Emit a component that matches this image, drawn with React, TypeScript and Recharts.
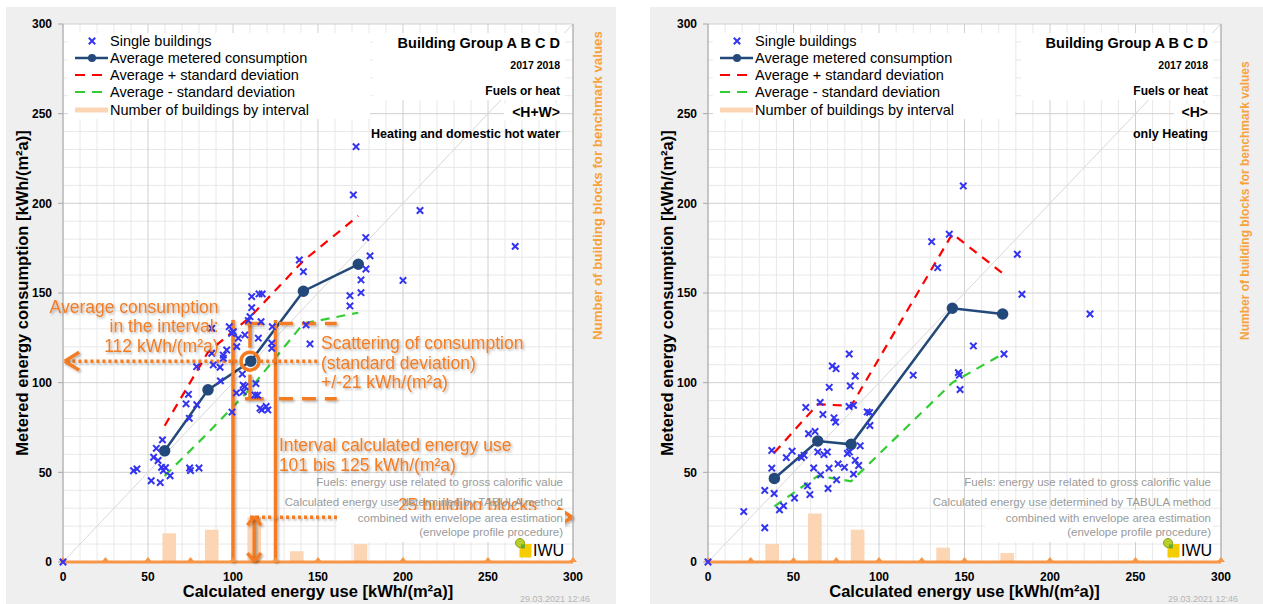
import React from 'react'
import {
  ComposedChart, XAxis, YAxis, CartesianGrid, Scatter, Line,
  ReferenceLine, ReferenceDot, ReferenceArea,
} from 'recharts'

// axes
const ticks = [0, 50, 100, 150, 200, 250, 300]
const minorTicks = [10, 20, 30, 40, 60, 70, 80, 90, 110, 120, 130, 140, 160, 170, 180, 190, 210, 220, 230, 240, 260, 270, 280, 290]
const countTicks = [0, 50, 100]
const intervalBounds = [0, 25, 50, 75, 100, 125, 150, 200, 250, 300]

// heating + domestic hot water <H+W>
const hwSingle: [number, number][] = [
  [0, 0], [41.5, 50.9], [43.5, 51.9], [51.9, 45.3], [57.2, 44.3], [53.3, 58.4], [54.9, 63.4], [58.5, 68.1],
  [55.9, 56.6], [58, 52.8], [59, 51], [60.3, 52.6], [63, 48.1], [74.5, 52.4], [75, 51], [80, 52.4],
  [72.4, 88.2], [73.8, 93.5], [78.7, 87.7], [74.3, 80.1], [92.6, 101], [99.4, 83.6], [102, 94.3],
  [106, 98.6], [106, 94.9], [113.5, 99.5], [114.5, 93], [116.9, 84.8], [120.5, 84.8], [119.5, 86.7],
  [105.5, 104.8], [78.6, 108.9], [87.5, 116.4], [94.3, 115.4], [96.3, 118.2], [88.4, 109.9], [92.4, 108.6],
  [94.3, 113.6], [87.5, 130.3], [99.2, 127.5], [97.8, 131.2], [100.2, 128.4], [102.2, 120.1], [103.1, 124.8],
  [107, 126.6], [114.9, 124.8], [116.5, 134], [123.1, 131.2], [122.8, 122], [122.8, 119.2], [109, 134.6],
  [110, 136.8], [111, 141.8], [111, 148], [115.3, 149.5], [117.2, 149.5], [107.1, 97.8], [112.9, 93.1],
  [115.9, 85.7], [139, 168.4], [141.4, 161.9], [143, 132.2], [145.3, 121.6], [168.8, 142.8], [168.8, 148.5],
  [175.3, 150.2], [175.3, 157.3], [178.2, 163.4], [180.6, 170.7], [178.1, 180.9], [170.8, 204.7],
  [172.4, 231.6], [200, 157], [210, 196], [266, 176],
]
const hwAvgX = [59.8, 85.3, 110.5, 141.4, 173.7]
const hwAvg = [62, 96, 112, 151, 166]
const hwPlus = [76, 117, 137, 168, 193]
const hwMinus = [48, 72, 97, 133, 139]
const hwBinX = [62.5, 87.5, 112.5, 137.5, 175]
const hwCount = [16, 18, 25, 6, 10]

// only heating <H>
const hSingle: [number, number][] = [
  [0, 0], [20.9, 28.1], [33.2, 19.1], [33.2, 39.9], [38.7, 38.2], [41.8, 29.1], [44.2, 31.3], [50.6, 35.7],
  [37.3, 62.2], [37.3, 52.3], [45.8, 58.2], [49.2, 61.8], [54.6, 58.2], [56.2, 59.5], [57.2, 86.2],
  [58.8, 71.5], [62.6, 72.8], [61.8, 52.4], [58.2, 42.4], [59.6, 37.6], [65.6, 89], [65.8, 48.6],
  [67.2, 82.3], [64.2, 61.4], [67.8, 59.9], [69.8, 61.4], [70.9, 97.4], [70.8, 52.3], [70.2, 41],
  [73.7, 80.4], [74.6, 78], [76.1, 54.7], [75.2, 45.8], [79.8, 52.8], [83.2, 98.2], [86.1, 103.7],
  [82.5, 86.7], [85.1, 87.4], [81.5, 60.5], [82.7, 61.4], [86.1, 56.7], [88.1, 53.8], [85.1, 49],
  [89, 64.8], [93.1, 83.7], [94.5, 83.3], [94.7, 76.1], [120, 104.2], [146.4, 105.6], [147, 104.2],
  [147.4, 96.2], [149.3, 209.7], [130.8, 178.6], [141.1, 182.8], [134.3, 164.1], [180.9, 171.6],
  [183.6, 149.3], [155.2, 120.5], [173.1, 116], [82.6, 116], [72.7, 109.3], [74.9, 107.8], [223.4, 138.3],
]
const hAvgX = [38.8, 64.2, 83.7, 142.9, 172.3]
const hAvg = [46.6, 67.5, 65.6, 141.5, 138.3]
const hPlus = [61, 88, 87, 183, 161]
const hMinus = [31, 48, 45, 100, 116]
const hBinX = [37.5, 62.5, 87.5, 137.5, 175]
const hCount = [10, 27, 18, 8, 5]

const FONT = '"Liberation Sans", Arial, Helvetica, sans-serif'
const NAVY = '#23497a'
const BLUE = '#3333f0'
const NOTE = '#f47b20'
const BASE = '#f79646'
const COUNT = '#f8a23c'
const BAR = '#fcd5b4'
const BAR_HALF = 4 // half bar width in axis units

function Cross(props: any) {
  const { cx, cy } = props
  if (cx == null || cy == null) return <g />
  const s = 3.2
  return (
    <path d={`M${cx - s},${cy - s}L${cx + s},${cy + s}M${cx - s},${cy + s}L${cx + s},${cy - s}`}
      stroke={BLUE} strokeWidth={2} fill="none" />
  )
}

function Tri(props: any) {
  const { cx, cy, index } = props
  return <path key={index} d={`M${cx - 4},${cy}L${cx},${cy - 5}L${cx + 4},${cy}Z`} fill={BASE} />
}

function CountTick(props: any) {
  const { x, y, payload } = props
  if (!countTicks.includes(payload.value)) return <g />
  return (
    <text x={x} y={y} dy={4} textAnchor="start" fill={COUNT} fontSize={12} fontWeight="bold">{payload.value}</text>
  )
}

const minorGen = (axisKey: 'x' | 'y') => (props: any) => {
  const axis = axisKey === 'x' ? props.xAxis : props.yAxis
  const off = props.offset
  if (axis && typeof axis.scale === 'function') return minorTicks.map(v => axis.scale(v))
  if (axisKey === 'x') return minorTicks.map(v => off.left + (off.width * v) / 300)
  return minorTicks.map(v => off.top + off.height * (1 - v / 300))
}

const noteText = (lines: string[], anchor: 'start' | 'end', gap: number) => (props: any) => {
  const vb = props.viewBox || {}
  const x = vb.x ?? 0
  const y = vb.y ?? 0
  return (
    <text x={x} y={y} textAnchor={anchor} fill={NOTE} fontSize={17.5} dominantBaseline="central" filter="url(#noteShadow)">
      {lines.map((l, i) => <tspan key={i} x={x} dy={i === 0 ? 0 : gap}>{l}</tspan>)}
    </text>
  )
}

function seg(key: string, x1: number, y1: number, x2: number, y2: number, dash?: string, w = 3.5) {
  return (
    <ReferenceLine key={key} segment={[{ x: x1, y: y1 }, { x: x2, y: y2 }]} stroke={NOTE} strokeWidth={w}
      strokeDasharray={dash} ifOverflow="visible" filter="url(#noteShadow)" />
  )
}

function note(key: string, x: number, y: number, lines: string[], anchor: 'start' | 'end', gap = 19.5) {
  return <ReferenceDot key={key} x={x} y={y} r={0} fill="none" stroke="none" ifOverflow="visible" label={noteText(lines, anchor, gap)} />
}

function annotations() {
  const dots = '3 3'
  return [
    seg('v1', 100, 0, 100, 135),
    seg('v2', 125, 0, 125, 135),
    seg('hl', 2, 112, 104.5, 112, dots),
    seg('al1', 9.5, 117, 1, 112),
    seg('al2', 1, 112, 9.5, 107),
    seg('hr', 116, 112, 150, 112, dots),
    seg('eb1', 110, 133, 110, 119.5),
    seg('eb2', 110, 104.5, 110, 91),
    seg('cap1', 107, 133, 118, 133),
    seg('cap2', 107, 91, 118, 91),
    seg('d1', 127, 133, 161, 133, '14 9'),
    seg('d2', 127, 91, 161, 91, '14 9'),
    seg('h25', 110, 25, 298, 25, dots),
    seg('ar1', 291, 30, 299.5, 25),
    seg('ar2', 299.5, 25, 291, 20),
    seg('va', 112.5, 1, 112.5, 25),
    seg('vt1', 108.5, 20.5, 112.5, 25.5),
    seg('vt2', 112.5, 25.5, 116.5, 20.5),
    seg('vb1', 108.5, 5, 112.5, 0.5),
    seg('vb2', 112.5, 0.5, 116.5, 5),
    <ReferenceDot key="circ" x={110} y={112} r={9} fill="none" stroke={NOTE} strokeWidth={3.5} ifOverflow="visible" />,
    note('n1', 91.5, 142.2, ['Average consumption', 'in the interval:', '112 kWh/(m²a)'], 'end'),
    note('n2', 151.8, 122, ['Scattering of consumption', '(standard deviation)', '+/-21 kWh/(m²a)'], 'start'),
    note('n3', 127, 65, ['Interval calculated energy use', '101 bis 125 kWh/(m²a)'], 'start', 20),
    note('n4', 197, 31.8, ['25 building blocks'], 'start'),
  ]
}

function LegendBox({ x, y }: { x: number; y: number }) {
  const rows = [
    { label: 'Single buildings', icon: <Cross cx={24} cy={9} /> },
    { label: 'Average metered consumption', icon: <g><line x1={7} y1={9} x2={40} y2={9} stroke={NAVY} strokeWidth={2.5} /><circle cx={24} cy={9} r={4} fill={NAVY} /></g> },
    { label: 'Average + standard deviation', icon: <line x1={7} y1={9} x2={36} y2={9} stroke="#ff0000" strokeWidth={2.2} strokeDasharray="10 7" /> },
    { label: 'Average - standard deviation', icon: <line x1={7} y1={9} x2={36} y2={9} stroke="#33cc33" strokeWidth={2.2} strokeDasharray="10 7" /> },
    { label: 'Number of buildings by interval', icon: <line x1={7} y1={9} x2={40} y2={9} stroke={BAR} strokeWidth={5} /> },
  ]
  const rowY = [8, 25, 42, 59, 77]
  return (
    <div style={{ position: 'absolute', left: x, top: y, width: 302, height: 86, background: '#fff' }}>
      {rows.map((r, i) => (
        <div key={i} style={{ position: 'absolute', left: 0, top: rowY[i] - 9, height: 18, display: 'flex', alignItems: 'center' }}>
          <svg width={42} height={18} style={{ display: 'block' }}>{r.icon}</svg>
          <span style={{ fontSize: 14.5, color: '#000', whiteSpace: 'nowrap', lineHeight: '18px' }}>{r.label}</span>
        </div>
      ))}
    </div>
  )
}

type PanelProps = {
  left: number; width: number; ml: number; mr: number; countTitle: number
  single: [number, number][]; avgX: number[]; avg: number[]; plus: number[]; minus: number[]
  binX: number[]; count: number[]; tag: string; scope: string; annotated?: boolean
}

function Panel(p: PanelProps) {
  const height = 597
  const yW = 45
  const rW = 30
  const xH = 42
  const mt = 17
  const pl = p.ml + yW
  const pr = p.width - p.mr - rW
  const pt = mt
  const pb = height - xH
  const rightGap = p.width - pr

  const bins = p.binX.map((x, i) => ({ x, n: p.count[i] }))
  const single = p.single.map(([x, y]) => ({ x, y }))
  const avg = p.avgX.map((x, i) => ({ x, y: p.avg[i] }))
  const plus = p.avgX.map((x, i) => ({ x, y: p.plus[i] }))
  const minus = p.avgX.map((x, i) => ({ x, y: p.minus[i] }))
  const base = intervalBounds.map(x => ({ x, y: 0 }))

  const header = [
    { t: 'Building Group A B C D', s: 14.5, y: 20.4 },
    { t: '2017 2018', s: 10.5, y: 41 },
    { t: 'Fuels or heat', s: 12, y: 66.5 },
    { t: p.tag, s: 14, y: 88 },
    { t: p.scope, s: 12.5, y: 109.6 },
  ]
  const foot = [
    { t: 'Fuels: energy use related to gross calorific value', y: -79.5 },
    { t: 'Calculated energy use determined by TABULA method', y: -58.6 },
    { t: 'combined with envelope area estimation', y: -43.4 },
    { t: '(envelope profile procedure)', y: -28.8 },
  ]

  return (
    <div style={{ position: 'absolute', left: p.left, top: 7, width: p.width, height, background: '#efefef', overflow: 'hidden' }}>
      <div style={{ position: 'absolute', left: pl, top: pt, width: pr - pl, height: pb - pt, background: '#fff' }} />
      <div style={{ position: 'absolute', left: 0, top: 0 }}>
        <ComposedChart width={p.width} height={height} margin={{ top: mt, right: p.mr, bottom: 0, left: p.ml }}>
          <defs>
            <filter id="noteShadow" filterUnits="userSpaceOnUse" x={-50} y={-50} width={800} height={800}>
              <feDropShadow dx="1.5" dy="1.5" stdDeviation="1.3" floodColor="#000" floodOpacity="0.3" />
            </filter>
          </defs>
          <CartesianGrid stroke="#e8e8e8" horizontalCoordinatesGenerator={minorGen('y')} verticalCoordinatesGenerator={minorGen('x')} />
          <CartesianGrid stroke="#d0d0d0" />
          <XAxis dataKey="x" type="number" domain={[0, 300]} ticks={ticks} height={xH} axisLine={false} tickLine={false}
            tickMargin={4} tick={{ fill: '#000', fontSize: 12, fontWeight: 'bold' }}
            label={(lp: any) => {
              const vb = lp.viewBox
              return <text x={vb.x + vb.width / 2} y={vb.y + 35} textAnchor="middle" fontSize={16.5} fontWeight="bold" fill="#000">Calculated energy use [kWh/(m²a)]</text>
            }} />
          <YAxis dataKey="y" type="number" domain={[0, 300]} ticks={ticks} width={yW} stroke="#a8a8a8" tickSize={5} tickMargin={6}
            tick={{ fill: '#000', fontSize: 12, fontWeight: 'bold' }}
            label={(lp: any) => {
              const vb = lp.viewBox
              const cx = vb.x + vb.width - 41
              const cy = vb.y + vb.height / 2
              return <text x={cx} y={cy} transform={`rotate(-90 ${cx} ${cy})`} textAnchor="middle" dominantBaseline="central" fontSize={16.5} fontWeight="bold" fill="#000">Metered energy consumption [kWh/(m²a)]</text>
            }} />
          <YAxis yAxisId="r" orientation="right" type="number" domain={[0, 300]} ticks={ticks} width={rW} stroke="#a8a8a8"
            tickSize={5} tickMargin={7} tick={<CountTick />}
            label={(lp: any) => {
              const vb = lp.viewBox
              const cx = vb.x + 24
              const cy = vb.y + 316
              return <text x={cx} y={cy} transform={`rotate(-90 ${cx} ${cy})`} textAnchor="start" dominantBaseline="central" fontSize={p.countTitle} fontWeight="bold" fill={COUNT}>Number of building blocks for benchmark values</text>
            }} />
          <ReferenceLine segment={[{ x: 0, y: 0 }, { x: 300, y: 300 }]} stroke="#d8d8d8" strokeWidth={1} />
          {/* building counts: the count axis shares the 0-300 scale of the left axis */}
          {bins.map((b, i) => (
            <ReferenceArea key={'bar' + i} x1={b.x - BAR_HALF} x2={b.x + BAR_HALF} y1={0} y2={b.n} fill={BAR} fillOpacity={1} stroke="none" ifOverflow="visible" />
          ))}
          <Line data={plus} dataKey="y" stroke="#ff0000" strokeWidth={2.2} strokeDasharray="9 7" dot={false} activeDot={false} isAnimationActive={false} />
          <Line data={minus} dataKey="y" stroke="#33cc33" strokeWidth={2.2} strokeDasharray="9 7" dot={false} activeDot={false} isAnimationActive={false} />
          <Line data={base} dataKey="y" stroke={BASE} strokeWidth={3} dot={<Tri />} activeDot={false} isAnimationActive={false} />
          <Line data={avg} dataKey="y" stroke={NAVY} strokeWidth={2.5} dot={{ r: 4.5, fill: NAVY, stroke: NAVY }} activeDot={false} isAnimationActive={false} />
          <Scatter data={single} shape={<Cross />} isAnimationActive={false} />
          {p.annotated ? annotations() : null}
        </ComposedChart>
      </div>

      <LegendBox x={pl + 5} y={pt + 9} />

      <div style={{ position: 'absolute', right: rightGap + 8, top: pt + 9, width: 192, height: 67, background: '#fff' }} />
      {header.map((h, i) => (
        <div key={i} style={{ position: 'absolute', right: rightGap + 13, top: pt + h.y, transform: 'translateY(-50%)', fontSize: h.s, fontWeight: 'bold', color: '#000', whiteSpace: 'nowrap', lineHeight: 1.2, background: i === 3 ? '#fff' : 'transparent', padding: i === 3 ? '0 0 0 8px' : 0 }}>{h.t}</div>
      ))}

      <div style={{ position: 'absolute', right: rightGap + 8, top: pb - 52, width: 228, height: 32, background: '#fff' }} />
      {foot.map((f, i) => (
        <div key={i} style={{ position: 'absolute', right: rightGap + 10, top: pb + f.y, transform: 'translateY(-50%)', fontSize: 11.5, color: '#9a9a9a', whiteSpace: 'nowrap', lineHeight: 1.2 }}>{f.t}</div>
      ))}

      <svg style={{ position: 'absolute', left: pr - 60, top: pb - 28 }} width={60} height={26}>
        <rect x={6.5} y={10} width={12} height={13.5} fill="#f6cd00" />
        <circle cx={7} cy={9} r={4.5} fill="#b9cf2c" stroke="#8fa31c" strokeWidth={1} />
        <rect x={8} y={10.5} width={4} height={4} fill="#6aa832" />
      </svg>
      <div style={{ position: 'absolute', left: pr - 40, top: pb - 11, transform: 'translateY(-50%)', fontSize: 16, color: '#000', lineHeight: 1.1 }}>IWU</div>

      <div style={{ position: 'absolute', right: rightGap - 17, top: height - 5, transform: 'translateY(-50%)', fontSize: 9, color: '#b5b5b5', whiteSpace: 'nowrap' }}>29.03.2021 12:46</div>
    </div>
  )
}

export default function App() {
  return (
    <div style={{ position: 'absolute', left: 0, top: 0, width: 1263, height: 604, background: '#fff', fontFamily: FONT, overflow: 'hidden' }}>
      <Panel left={6} width={610} ml={12} mr={13} countTitle={13.3} single={hwSingle} avgX={hwAvgX} avg={hwAvg} plus={hwPlus} minus={hwMinus}
        binX={hwBinX} count={hwCount} tag="<H+W>" scope="Heating and domestic hot water" annotated />
      <Panel left={650} width={613} ml={13} mr={12} countTitle={12} single={hSingle} avgX={hAvgX} avg={hAvg} plus={hPlus} minus={hMinus}
        binX={hBinX} count={hCount} tag="<H>" scope="only Heating" />
    </div>
  )
}
